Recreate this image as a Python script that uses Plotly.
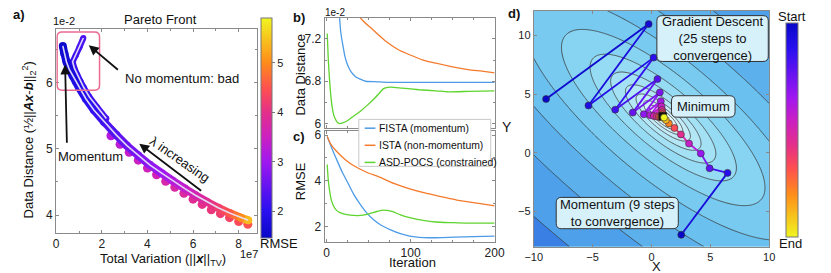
import numpy as np
import plotly.graph_objects as go
from plotly.colors import sample_colorscale

W, H = 831, 273
FONT = "Liberation Sans, Arial, sans-serif"

# ---------------- data: panel a (Pareto front) ----------------
mom_x = [0.29, 0.36, 0.45, 0.58, 0.72, 0.86, 1.0, 1.3, 1.65, 2.1, 2.64, 3.1, 3.6, 4.1, 4.64, 5.1, 5.64, 6.1, 6.6, 7.1, 7.6, 8.1, 8.42]
mom_y = [6.56, 6.44, 6.32, 6.2, 6.11, 6.02, 5.93, 5.76, 5.59, 5.41, 5.21, 5.05, 4.90, 4.76, 4.63, 4.52, 4.40, 4.30, 4.20, 4.11, 4.03, 3.96, 3.92]
mom_rmse = [1.55, 1.6, 1.65, 1.7, 1.75, 1.8, 1.85, 1.95, 2.05, 2.2, 2.4, 2.55, 2.7, 2.85, 3.0, 3.2, 3.4, 3.65, 3.9, 4.2, 4.55, 5.0, 5.4]

nom_x = [1.19, 1.02, 0.86, 0.72, 0.8, 0.93, 1.07, 1.21, 1.45, 1.8, 2.2]
nom_y = [6.68, 6.54, 6.42, 6.32, 6.22, 6.12, 6.02, 5.93, 5.79, 5.63, 5.46]
nom_rmse = [2.3, 2.25, 2.2, 2.15, 2.1, 2.1, 2.1, 2.1, 2.15, 2.2, 2.3]

dot_x = [2.4, 2.8, 3.2, 3.6, 4.0, 4.4, 4.8, 5.2, 5.6, 6.0, 6.4, 6.8, 7.2, 7.6, 8.0, 8.4]
dot_y = [5.20, 5.07, 4.95, 4.83, 4.71, 4.61, 4.51, 4.42, 4.33, 4.24, 4.16, 4.08, 4.02, 3.96, 3.90, 3.86]
dot_rmse = [3.2, 3.3, 3.4, 3.5, 3.55, 3.6, 3.7, 3.75, 3.8, 3.9, 4.0, 4.1, 4.2, 4.3, 4.4, 4.5]

# ---------------- data: panel b / c ----------------
b_fista_it = [13.5, 15.5, 17, 19.4, 22, 25.2, 29, 34.9, 40, 46.5, 60, 71.7, 100, 150, 200]
b_fista_v = [7.65, 7.40, 7.26, 7.14, 7.03, 6.95, 6.89, 6.84, 6.82, 6.80, 6.795, 6.79, 6.79, 6.79, 6.79]
b_ista_it = [36, 40, 46, 52, 60, 71.7, 85, 98.8, 115, 130, 150, 168.6, 185, 200]
b_ista_v = [7.46, 7.40, 7.35, 7.31, 7.25, 7.17, 7.10, 7.05, 7.0, 6.97, 6.935, 6.91, 6.895, 6.88]
b_asd_it = [0.8, 2, 3.5, 5.8, 8, 10, 13, 15.5, 20, 25.2, 32, 40.7, 48, 56, 62, 67.8, 75.6, 90, 110, 130, 145, 170, 200]
b_asd_v = [7.25, 7.02, 6.82, 6.61, 6.50, 6.45, 6.41, 6.40, 6.41, 6.43, 6.47, 6.52, 6.57, 6.63, 6.68, 6.73, 6.745, 6.735, 6.72, 6.71, 6.70, 6.705, 6.71]

c_ista_it = [0.8, 5, 13.6, 22, 33, 47, 64, 80, 99, 118, 137.6, 155, 168.6, 185, 200]
c_ista_v = [5.93, 5.6, 5.22, 4.93, 4.64, 4.38, 4.14, 3.88, 3.64, 3.45, 3.29, 3.15, 3.07, 2.98, 2.90]
c_fista_it = [0.8, 7, 13.6, 19, 25, 32, 40.7, 48, 56, 65, 75.6, 87, 99, 110, 122, 137, 153, 175, 200]
c_fista_v = [5.93, 5.35, 4.79, 4.35, 3.93, 3.42, 2.93, 2.58, 2.29, 2.05, 1.86, 1.69, 1.57, 1.52, 1.50, 1.51, 1.53, 1.55, 1.57]
c_asd_it = [0.8, 2, 3.5, 5.8, 8.5, 11.6, 16, 21.3, 28, 36.8, 45, 52, 60, 67.8, 74, 79, 88, 99, 115, 130, 150, 168.6, 200]
c_asd_v = [4.71, 4.05, 3.6, 3.14, 2.88, 2.71, 2.6, 2.53, 2.49, 2.47, 2.5, 2.57, 2.65, 2.71, 2.69, 2.64, 2.5, 2.38, 2.26, 2.19, 2.16, 2.14, 2.14]

series_names = ["FISTA (momentum)", "ISTA (non-momentum)", "ASD-POCS (constrained)"]
series_colors = ["#4d9be6", "#f47a2c", "#5ed42f"]

# ---------------- data: panel d (optimisation paths) ----------------
gd_x = [-8.95, -0.24, -5.35, 0.18, -3.08, 0.51, -1.59, 0.71, -0.65, 0.79, -0.1, 0.85, 0.2, 0.9, 0.45, 0.93, 0.62, 0.95, 0.75, 0.97, 0.84, 0.98, 0.9, 0.99, 0.95, 1.0]
gd_y = [4.58, 10.97, 4.03, 8.11, 3.67, 6.28, 3.42, 5.14, 3.28, 4.39, 3.2, 3.95, 3.13, 3.65, 3.09, 3.45, 3.06, 3.3, 3.04, 3.2, 3.03, 3.12, 3.02, 3.07, 3.01, 3.03]
mo_x = [2.53, 6.46, 4.94, 4.19, 3.19, 2.50, 1.95, 1.48, 1.22, 1.07]
mo_y = [-7.0, -1.72, -1.33, -0.06, 0.78, 1.56, 2.11, 2.5, 2.78, 3.0]
min_x, min_y = [0.95], [3.1]

# objective function parameters for the contour background
CX, CY, THETA, A_AX, B_AX = 1.0, 3.0, -40.0, 3.0, 1.0

CS = [[0, '#0808c8'], [0.124, '#2a10f0'], [0.348, '#a018f0'], [0.46, '#cc20c0'],
      [0.573, '#e43088'], [0.68, '#ff5050'], [0.798, '#ff8c1a'], [1, '#f0f520']]
RMIN, RMAX = 1.45, 5.9


def px_x(p):
    return p / W


def px_y(p):
    return 1 - p / H


def dom_x(a, b):
    return [a / W, b / W]


def dom_y(top, bot):
    return [1 - bot / H, 1 - top / H]


fig = go.Figure()


def grad_line(xs, ys, vals, width, xa, ya, vmin, vmax):
    for i in range(len(xs) - 1):
        t = ((vals[i] + vals[i + 1]) / 2 - vmin) / (vmax - vmin)
        col = sample_colorscale(CS, [min(max(t, 0), 1)])[0]
        fig.add_trace(go.Scatter(x=[xs[i], xs[i + 1]], y=[ys[i], ys[i + 1]], mode='lines',
                                 line=dict(color=col, width=width), xaxis=xa, yaxis=ya,
                                 showlegend=False, hoverinfo='skip'))


# ---------------- panel a ----------------
fig.add_trace(go.Scatter(x=dot_x, y=dot_y, mode='markers', xaxis='x', yaxis='y', showlegend=False,
                         marker=dict(size=9, color=dot_rmse, colorscale=CS, cmin=RMIN, cmax=RMAX,
                                     line=dict(width=0)), hoverinfo='skip'))
fig.add_trace(go.Scatter(x=dot_x, y=[v + 0.045 for v in dot_y], mode='lines', xaxis='x', yaxis='y',
                         showlegend=False, line=dict(color='rgba(238,228,242,0.9)', width=1.6),
                         hoverinfo='skip'))
grad_line(nom_x, nom_y, nom_rmse, 6, 'x', 'y', RMIN, RMAX)
fig.add_trace(go.Scatter(x=nom_x, y=nom_y, mode='markers', xaxis='x', yaxis='y', showlegend=False,
                         marker=dict(size=6, color=nom_rmse, colorscale=CS, cmin=RMIN, cmax=RMAX,
                                     line=dict(width=0)), hoverinfo='skip'))
grad_line(mom_x, mom_y, mom_rmse, 8, 'x', 'y', RMIN, RMAX)
fig.add_trace(go.Scatter(x=mom_x, y=mom_y, mode='markers', xaxis='x', yaxis='y', showlegend=False,
                         marker=dict(size=8, color=mom_rmse, colorscale=CS, cmin=RMIN, cmax=RMAX,
                                     line=dict(width=0), showscale=True,
                                     colorbar=dict(x=px_x(258.3), xanchor='left', y=px_y(128.3), yanchor='middle',
                                                   len=220, lenmode='pixels', thickness=11, xpad=0, ypad=0,
                                                   outlinewidth=1, outlinecolor='#777',
                                                   tickvals=[2, 3, 4, 5], ticks='outside', ticklen=3,
                                                   tickcolor='#777', tickfont=dict(size=11, color='#222'))),
                         hoverinfo='skip'))
for xs, ys in [(nom_x, nom_y), (mom_x, mom_y)]:
    fig.add_trace(go.Scatter(x=xs, y=ys, mode='lines', xaxis='x', yaxis='y', showlegend=False,
                             line=dict(color='rgba(230,225,247,0.95)', width=1.6), hoverinfo='skip'))

# ---------------- panel b / c ----------------
b_data = [(b_fista_it, b_fista_v), (b_ista_it, b_ista_v), (b_asd_it, b_asd_v)]
c_data = [(c_fista_it, c_fista_v), (c_ista_it, c_ista_v), (c_asd_it, c_asd_v)]
for (xs, ys), col in zip(b_data, series_colors):
    fig.add_trace(go.Scatter(x=xs, y=ys, mode='lines', xaxis='x2', yaxis='y2', showlegend=False,
                             line=dict(color=col, width=1.3, shape='spline', smoothing=0.6)))
for (xs, ys), col, nm in zip(c_data, series_colors, series_names):
    fig.add_trace(go.Scatter(x=xs, y=ys, mode='lines', xaxis='x3', yaxis='y3', name=nm, showlegend=False,
                             line=dict(color=col, width=1.3, shape='spline', smoothing=0.6)))

# ---------------- panel d ----------------
gx = np.linspace(-10, 10, 241)
gy = np.linspace(-8, 12.1, 241)
GX, GY = np.meshgrid(gx, gy)
th = np.deg2rad(THETA)
U = (GX - CX) * np.cos(th) + (GY - CY) * np.sin(th)
V = -(GX - CX) * np.sin(th) + (GY - CY) * np.cos(th)
Z = np.log((U / A_AX) ** 2 + (V / B_AX) ** 2 + 1e-6)
fig.add_trace(go.Contour(x=gx, y=gy, z=Z, xaxis='x4', yaxis='y4', showscale=False, hoverinfo='skip',
                         colorscale=[[0, '#e0f6fb'], [0.3, '#b0e6f6'], [0.55, '#86d4f2'],
                                     [0.75, '#66bdee'], [0.9, '#4fa3ea'], [1, '#3a80e4']],
                         contours=dict(start=np.log(0.25), end=np.log(300), size=0.66,
                                       coloring='fill', showlines=True),
                         line=dict(color='#3a3a3a', width=0.8)))

ngd = len(gd_x) - 1
grad_line(gd_x, gd_y, [i / ngd for i in range(len(gd_x))], 1.8, 'x4', 'y4', 0, 1)
fig.add_trace(go.Scatter(x=gd_x, y=gd_y, mode='markers', xaxis='x4', yaxis='y4', showlegend=False,
                         marker=dict(size=7, color=[i / ngd for i in range(len(gd_x))], colorscale=CS,
                                     cmin=0, cmax=1, line=dict(width=0.6, color='#333')), hoverinfo='skip'))
fig.add_trace(go.Scatter(x=min_x, y=min_y, mode='markers', xaxis='x4', yaxis='y4', showlegend=False,
                         marker=dict(size=8, symbol='square', color='#111'), hoverinfo='skip'))
nmo = len(mo_x) - 1
grad_line(mo_x, mo_y, [i / nmo for i in range(len(mo_x))], 1.8, 'x4', 'y4', 0, 1)
fig.add_trace(go.Scatter(x=mo_x, y=mo_y, mode='markers', xaxis='x4', yaxis='y4', showlegend=False,
                         marker=dict(size=7, color=[1 - i / nmo for i in range(len(mo_x))], colorscale=CS,
                                     reversescale=True, cmin=0, cmax=1,
                                     line=dict(width=0.6, color='#333'), showscale=True,
                                     colorbar=dict(x=px_x(795), xanchor='left', y=px_y(130), yanchor='middle',
                                                   len=214, lenmode='pixels', thickness=12, xpad=0, ypad=0,
                                                   outlinewidth=1, outlinecolor='#777',
                                                   showticklabels=False, ticks='')),
                         hoverinfo='skip'))

# ---------------- axes ----------------
ax_common = dict(showline=True, linecolor='#8a8a8a', linewidth=1, mirror='allticks', ticks='inside',
                 ticklen=3, tickcolor='#8a8a8a', showgrid=False, zeroline=False,
                 tickfont=dict(size=12, color='#222'))

fig.update_layout(
    width=W, height=H, margin=dict(l=0, r=0, t=0, b=0),
    paper_bgcolor='white', plot_bgcolor='white', showlegend=False,
    font=dict(family=FONT, size=12, color='#111'),
    xaxis=dict(domain=dom_x(48.3, 253.5), range=[0, 8.79], anchor='y', tickvals=[0, 2, 4, 6, 8],
               minor=dict(ticks='inside', ticklen=2, dtick=1, tickcolor='#8a8a8a'), **ax_common),
    yaxis=dict(domain=dom_y(27, 235), range=[3.73, 6.81], anchor='x', tickvals=[4, 5, 6],
               minor=dict(ticks='inside', ticklen=2, dtick=0.5, tickcolor='#8a8a8a'), **ax_common),
    xaxis2=dict(domain=dom_x(323, 497), range=[-2.3, 200], anchor='y2', tickvals=[0, 100, 200],
                showticklabels=False,
                minor=dict(ticks='inside', ticklen=2, dtick=25, tickcolor='#8a8a8a'), **ax_common),
    yaxis2=dict(domain=dom_y(15, 127.7), range=[6.36, 7.40], anchor='x2', tickvals=[6.4, 6.8, 7.2],
                ticktext=['6', '6.8', '7.2'],
                minor=dict(ticks='inside', ticklen=2, dtick=0.2, tickcolor='#8a8a8a'), **ax_common),
    xaxis3=dict(domain=dom_x(323, 497), range=[-2.3, 200], anchor='y3', tickvals=[0, 100, 200],
                minor=dict(ticks='inside', ticklen=2, dtick=25, tickcolor='#8a8a8a'), **ax_common),
    yaxis3=dict(domain=dom_y(131, 244), range=[1.33, 6.17], anchor='x3', tickvals=[2, 4, 6],
                minor=dict(ticks='inside', ticklen=2, dtick=1, tickcolor='#8a8a8a'), **ax_common),
    xaxis4=dict(domain=dom_x(537, 778), range=[-10, 10], anchor='y4', tickvals=[-10, -5, 0, 5, 10],
                **{**ax_common, 'tickfont': dict(size=11, color='#222')}),
    yaxis4=dict(domain=dom_y(8, 249), range=[-8, 12.1], anchor='x4', tickvals=[-5, 0, 5, 10],
                **{**ax_common, 'tickfont': dict(size=11, color='#222')}),
)

# ---------------- shapes ----------------
def rrect(x0, x1, y0, y1, rx, ry):
    return (f"M {x0 + rx},{y1} L {x1 - rx},{y1} Q {x1},{y1} {x1},{y1 - ry} "
            f"L {x1},{y0 + ry} Q {x1},{y0} {x1 - rx},{y0} L {x0 + rx},{y0} "
            f"Q {x0},{y0} {x0},{y0 + ry} L {x0},{y1 - ry} Q {x0},{y1} {x0 + rx},{y1} Z")

shapes = [
    dict(type='path', xref='x', yref='y', path=rrect(0.04, 1.9, 5.89, 6.77, 0.22, 0.075),
         line=dict(color='#ea6a92', width=1.5), layer='above'),
]
boxes = [(0.46, 9.92, 7.78, 11.69), (1.70, 7.10, 3.03, 4.86), (-8.09, 2.28, -6.48, -3.81)]
for (x0, x1, y0, y1) in boxes:
    shapes.append(dict(type='path', xref='x4', yref='y4', path=rrect(x0, x1, y0, y1, 0.45, 0.45),
                       fillcolor='#d7f1fb', line=dict(color='#333', width=1), layer='above'))

# legend for panels b/c (box, line samples, labels)
LEG_L, LEG_R, LEG_T, LEG_B = 358, 493, 119, 167
LEG_ROWS = [128, 145.5, 163]
shapes.append(dict(type='rect', xref='paper', yref='paper', x0=px_x(LEG_L), x1=px_x(LEG_R),
                   y0=px_y(LEG_B), y1=px_y(LEG_T), fillcolor='white',
                   line=dict(color='#c8c8c8', width=1), layer='above'))
for row, col in zip(LEG_ROWS, series_colors):
    shapes.append(dict(type='line', xref='paper', yref='paper', x0=px_x(364), x1=px_x(375),
                       y0=px_y(row), y1=px_y(row), line=dict(color=col, width=1.5), layer='above'))
fig.update_layout(shapes=shapes)

# ---------------- annotations ----------------
ann = []


def txt(px, py, text, size=13, angle=0, xanchor='center', **kw):
    ann.append(dict(x=px_x(px), y=px_y(py), xref='paper', yref='paper', text=text, showarrow=False,
                    font=dict(size=size, color='#111', family=FONT), textangle=angle,
                    xanchor=xanchor, yanchor='middle', **kw))


for row, nm in zip(LEG_ROWS, series_names):
    txt(376.5, row, nm, 10.4, xanchor='left')

txt(10, 12, '<b>a)</b>', 13)
txt(297, 15, '<b>b)</b>', 13)
txt(297, 137, '<b>c)</b>', 13)
txt(517, 11, '<b>d)</b>', 13)
txt(155, 17, 'Pareto Front', 13)
txt(56, 18, '1e-2', 11)
txt(246, 257, '1e7', 11)
txt(158, 262, 'Total Variation (||<b><i>x</i></b>||<sub>TV</sub>)', 13)
txt(20, 140, 'Data Distance (½||<b><i>Ax</i></b>-<b><i>b</i></b>||<sub>2</sub><sup>2</sup>)', 13, -90)
txt(276, 246, 'RMSE', 13)
txt(334, 10, '1e-2', 10)
txt(298, 73, 'Data Distance', 13, -90)
txt(298, 182, 'RMSE', 13, -90)
txt(413, 265.5, 'Iteration', 13)
txt(663, 269, 'X', 13)
txt(510, 127, 'Y', 14)
txt(801, 14, 'Start', 13)
txt(800, 246, 'End', 13)

# panel a annotations (data coords)
ann.append(dict(x=2.95, y=6.07, xref='x', yref='y', text='No momentum: bad', showarrow=False,
                xanchor='left', font=dict(size=13, color='#111', family=FONT)))
ann.append(dict(x=1.49, y=4.89, xref='x', yref='y', text='Momentum', showarrow=False,
                font=dict(size=13, color='#111', family=FONT)))
ann.append(dict(x=5.42, y=4.84, xref='x', yref='y', text='λ increasing', showarrow=False, textangle=35,
                font=dict(size=13, color='#111', family=FONT)))
for (hx, hy, tx, ty) in [(1.43, 6.57, 2.77, 6.18), (0.39, 6.28, 0.47, 5.07), (3.64, 5.08, 6.42, 4.35)]:
    ann.append(dict(x=hx, y=hy, ax=tx, ay=ty, xref='x', yref='y', axref='x', ayref='y', text='',
                    showarrow=True, arrowhead=2, arrowsize=1.1, arrowwidth=1.8, arrowcolor='#111'))

# panel d box labels
ann.append(dict(x=5.19, y=9.72, xref='x4', yref='y4', text='Gradient Descent<br>(25 steps to<br>convergence)',
                showarrow=False, font=dict(size=13, color='#111', family=FONT)))
ann.append(dict(x=4.40, y=3.94, xref='x4', yref='y4', text='Minimum', showarrow=False,
                font=dict(size=13, color='#111', family=FONT)))
ann.append(dict(x=-2.90, y=-5.14, xref='x4', yref='y4', text='Momentum (9 steps<br>to convergence)',
                showarrow=False, font=dict(size=13, color='#111', family=FONT)))

fig.update_layout(annotations=ann)
fig.write_html("out.html", config={'displayModeBar': False},
               post_script="document.body.style.margin='0px';document.body.style.padding='0px';")
